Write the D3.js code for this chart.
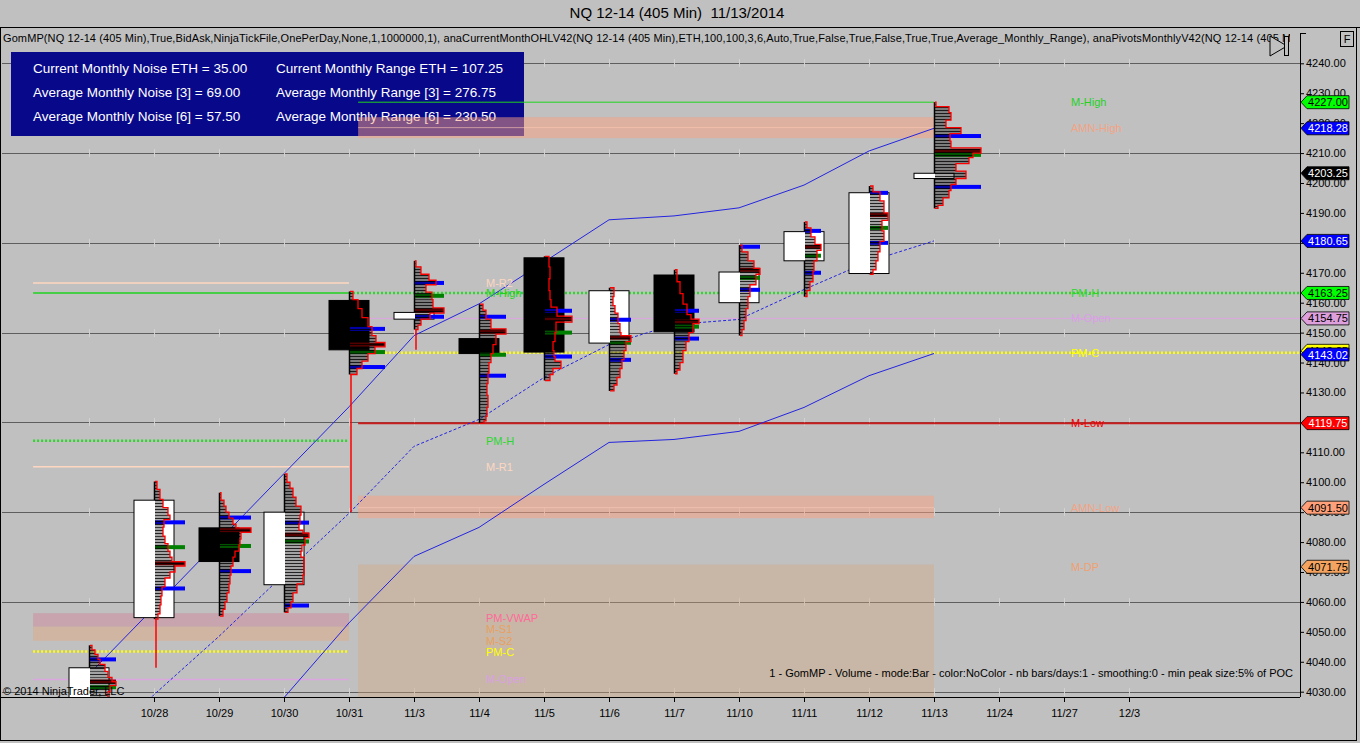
<!DOCTYPE html>
<html><head><meta charset="utf-8">
<script src="https://cdn.jsdelivr.net/npm/d3@7"></script>
<style>
html,body{margin:0;padding:0;background:#c0c0c0;overflow:hidden;}
svg{display:block;font-family:"Liberation Sans",Arial,sans-serif;}
</style></head><body>
<svg id="c" width="1360" height="743"></svg>
<script>
// ---------------- DATA ----------------
const title = "NQ 12-14 (405 Min)  11/13/2014";
const indicatorText = "GomMP(NQ 12-14 (405 Min),True,BidAsk,NinjaTickFile,OnePerDay,None,1,1000000,1), anaCurrentMonthOHLV42(NQ 12-14 (405 Min),ETH,100,100,3,6,Auto,True,False,True,False,True,True,Average_Monthly_Range), anaPivotsMonthlyV42(NQ 12-14 (405 Min),True)";
const footnote = "1 - GomMP - Volume - mode:Bar - color:NoColor - nb bars/days:1 - smoothing:0 - min peak size:5% of POC";
const copyright = "\u00a9 2014 NinjaTrader, LLC";
const infoLeft = ["Current Monthly Noise ETH = 35.00","Average Monthly Noise [3] = 69.00","Average Monthly Noise [6] = 57.50"];
const infoRight = ["Current Monthly Range ETH = 107.25","Average Monthly Range [3] = 276.75","Average Monthly Range [6] = 230.50"];

const slots = ["10/27","10/28","10/29","10/30","10/31","11/3","11/4","11/5","11/6","11/7","11/10","11/11","11/12","11/13","11/24","11/27","12/3"];
const tickLabels = ["10/28","10/29","10/30","10/31","11/3","11/4","11/5","11/6","11/7","11/10","11/11","11/12","11/13","11/24","11/27","12/3"];
const barDates = ["10/27","10/28","10/29","10/30","10/31","11/3","11/4","11/5","11/6","11/7","11/10","11/11","11/12","11/13"];
const open  = [4024.00,4054.75,4084.75,4065.75,4160.75,4154.50,4148.00,4175.00,4146.50,4169.25,4160.00,4174.00,4169.75,4201.50];
const high  = [4045.50,4100.25,4096.50,4102.75,4163.75,4174.00,4159.50,4175.50,4165.00,4171.00,4179.25,4187.00,4199.00,4227.00];
const low   = [4018.00,4054.25,4055.25,4056.50,4136.00,4151.00,4119.75,4134.00,4130.50,4136.25,4149.00,4162.00,4169.50,4191.50];
const close = [4038.00,4094.00,4073.50,4090.00,4144.25,4156.75,4143.00,4143.50,4164.00,4150.25,4170.25,4183.75,4196.75,4203.25];

// envelope lines (per bar)
const upperLine = [4035.8,4058.1,4080.5,4102.9,4125.2,4149.0,4159.6,4173.6,4187.7,4189.0,4191.7,4199.3,4210.7,4218.28];
const midLine   = [4007.0,4029.0,4048.5,4069.2,4089.6,4112.0,4121.0,4135.0,4146.0,4152.7,4154.4,4164.4,4173.8,4180.65];
const lowerLine = [3962.0,3985.0,4006.0,4028.0,4053.0,4075.2,4084.9,4099.3,4113.3,4114.3,4117.0,4125.0,4135.6,4143.02];

// volume profiles: [price, volume] from high to low
const profiles = [
 [[4045.5,200],[4044,500],[4042.5,800],[4040.8,1000],[4039.1,1500],[4036.8,1800],[4034.8,2200],[4033.4,2600],[4032,2000],[4030,1800],[4028,1500],[4026,0]],
 [[4100.25,200],[4097.6,500],[4094.3,800],[4091.5,1300],[4089,1500],[4087.5,900],[4085,800],[4082,1000],[4079.5,1300],[4077,1500],[4075,1700],[4073.5,3000],[4072,2000],[4070,1500],[4068,1000],[4065,700],[4062,600],[4059,500],[4056,300],[4054.25,0]],
 [[4096.5,100],[4094,400],[4092,600],[4090,900],[4088,1300],[4086,1600],[4084.75,3100],[4083.25,2100],[4081,2000],[4079,1900],[4077,1500],[4075,1300],[4072,1100],[4069,1000],[4066,900],[4063,700],[4060,500],[4057.5,300],[4055.25,0]],
 [[4102.75,200],[4100,500],[4098,800],[4095,1100],[4092,1600],[4089,1500],[4086,1400],[4084,1800],[4083,2400],[4081.5,2000],[4079,1700],[4077,1600],[4075,1900],[4072,1900],[4069,1800],[4066,1200],[4063,800],[4060,600],[4058,300],[4056.5,0]],
 [[4163.75,300],[4161,800],[4158,1200],[4155,1800],[4152,2200],[4149,2600],[4146.75,3500],[4145.25,2500],[4143,1800],[4140.5,1200],[4138,700],[4136,0]],
 [[4174,100],[4172,600],[4169.5,1400],[4167.5,2100],[4166,1100],[4163.5,1700],[4161,1800],[4158.25,2900],[4156.5,1500],[4154.5,600],[4152.5,300],[4151,0]],
 [[4159.5,300],[4157.5,600],[4154.5,1100],[4151.25,2600],[4149.5,1600],[4146,1300],[4143,1100],[4140,900],[4136.5,800],[4133,700],[4129,800],[4125,700],[4122,600],[4120.5,400],[4119.75,0]],
 [[4175.5,400],[4172,500],[4168,400],[4164,500],[4161,600],[4158.5,1200],[4155.5,2700],[4153.5,1100],[4150,1000],[4147,800],[4144,900],[4142,1000],[4140.5,1600],[4138,800],[4136,500],[4134,0]],
 [[4165,400],[4162,300],[4159,500],[4156.5,800],[4153,1000],[4150,1100],[4149,2100],[4147,1600],[4144,1400],[4141,1200],[4138,1000],[4135,700],[4132.5,400],[4130.5,0]],
 [[4171,200],[4167,500],[4163,800],[4159.5,1200],[4156,1600],[4154.5,2400],[4153,1800],[4150,1400],[4147,1100],[4144,800],[4140,500],[4137.5,200],[4136.25,0]],
 [[4179.25,200],[4177,800],[4174,1400],[4171.5,2000],[4169.5,1600],[4166,1000],[4162,800],[4158,600],[4154,400],[4151,200],[4149,0]],
 [[4187,200],[4185,600],[4182,1000],[4179.5,1600],[4177.5,1200],[4174,900],[4170.5,800],[4167,500],[4164,200],[4162,0]],
 [[4199,300],[4197,1000],[4194,1400],[4190,1800],[4187.5,1200],[4184,1400],[4180.5,1000],[4177,800],[4174,600],[4171,300],[4169.5,0]],
 [[4227,100],[4225.5,1400],[4223.5,1600],[4221,1100],[4218.5,2600],[4216.5,1500],[4214,1600],[4211.75,4600],[4210,3800],[4208.5,3400],[4206.5,2100],[4204,3100],[4201.5,2100],[4199.5,1600],[4197.5,1400],[4195,800],[4192.5,300],[4191.5,0]]
];
const vah  = [4040.8,4086.6,4088.2,4086.5,4151.25,4166.6,4155.3,4157.3,4154.3,4157.3,4178.7,4184.0,4196.7,4215.7];
const val  = [4026.0,4064.5,4070.3,4058.8,4138.5,4155.3,4135.6,4142.0,4140.9,4148.0,4164.3,4170.0,4180.0,4198.7];
const poc  = [4033.4,4072.9,4084.0,4082.5,4146.0,4157.4,4150.3,4154.6,4148.3,4153.7,4171.0,4178.7,4189.3,4210.7];
const vwap = [4031.5,4078.3,4078.7,4080.2,4143.5,4162.3,4142.6,4150.0,4146.6,4152.0,4168.3,4175.7,4185.0,4209.4];

// monthly levels: previous month (drawn up to 10/31) and current month
const prevLevelNames  = ["M-R2","M-High","PM-H","M-R1","PM-C","M-Open"];
const prevLevelValues = [4166.6,4163.25,4113.9,4105.2,4043.4,4034.1];
const prevBandNames = ["PM-VWAP","M-S1"];
const prevBandTop   = [4056.25,4051.75];
const prevBandBot   = [4051.75,4047.0];
const prevLabelNames  = ["M-R2","M-High","PM-H","M-R1","PM-VWAP","M-S1","M-S2","PM-C","M-Open"];
const prevLabelValues = [4166.6,4163.25,4113.9,4105.2,4054.7,4051.0,4047.0,4043.4,4034.1];
const prevStart = -0.86, prevEnd = 4;

const curLevelNames  = ["PM-H","M-Open","PM-C","M-Low","M-High"];
const curLevelValues = [4163.25,4154.75,4143.25,4119.75,4227.00];
const curBandNames = ["AMN-High","AMN-Low","M-DP"];
const curBandTop   = [4222.0,4095.5,4072.5];
const curBandBot   = [4215.0,4088.0,4020.0];
const curBandMid   = [4218.5,4091.5,null];
const curLabelNames  = ["M-High","AMN-High","PM-H","M-Open","PM-C","M-Low","AMN-Low","M-DP"];
const curLabelValues = [4227.0,4218.28,4163.25,4154.75,4143.25,4119.75,4091.5,4071.75];

// right-axis price flags
const flagValues = [4227.00,4218.28,4203.25,4180.65,4163.25,4154.75,4143.25,4143.02,4119.75,4091.50,4071.75];
const flagNames  = ["M-High","AMN-High","Last","Mid","PM-H","M-Open","PM-C","Lower","M-Low","AMN-Low","M-DP"];

// ---------------- STYLE ----------------
const col = {
  "M-R2":"#ffd7c0","M-High":"#1fd21f","PM-H":"#2ed62e","M-R1":"#ffd7c0","PM-C":"#ffff00","M-Open":"#dca6e0",
  "PM-VWAP":"#ff6a9a","M-S1":"#e8a060","M-S2":"#e8a060","M-Low":"#c81e1e","AMN-High":"#f4a486","AMN-Low":"#f4a486","M-DP":"#f0a070"
};
const labelCol = Object.assign({}, col, {"M-Low":"#ee0000","M-Open":"#d8a0e4"});
const flagFill = {"M-High":"#00ff00","AMN-High":"#0000ff","Last":"#000000","Mid":"#0000ff","PM-H":"#00ff00","M-Open":"#dda0dd","PM-C":"#ffff00","Lower":"#0000ff","M-Low":"#ff0000","AMN-Low":"#ffa07a","M-DP":"#f4a460"};
const flagText = {"M-High":"#000","AMN-High":"#fff","Last":"#fff","Mid":"#fff","PM-H":"#000","M-Open":"#000","PM-C":"#000","Lower":"#fff","M-Low":"#fff","AMN-Low":"#000","M-DP":"#000"};

// ---------------- SCALES ----------------
const svg = d3.select("#c");
const W = 1360, H = 743;
const plot = {l:2, r:1300, t:28, b:697};
const x = d3.scalePoint().domain(slots).range([89,1129]);
const xi = d3.scaleLinear().domain([0, slots.length-1]).range([89,1129]);
const y = d3.scaleLinear().domain([4030,4240]).range([691.7,63.3]);
const vol = d3.scaleLinear().domain([0,1000]).range([0,10]);

svg.append("rect").attr("width",W).attr("height",H).attr("fill","#c0c0c0");

const defs = svg.append("defs");
defs.append("clipPath").attr("id","plotclip").append("rect")
  .attr("x",plot.l).attr("y",plot.t).attr("width",plot.r-plot.l).attr("height",plot.b-plot.t);
const pat = defs.append("pattern").attr("id","stripes").attr("patternUnits","userSpaceOnUse")
  .attr("width",6).attr("height",3);
pat.append("rect").attr("width",6).attr("height",3).attr("fill","rgba(0,0,0,0.36)");
pat.append("rect").attr("y",2).attr("width",6).attr("height",1).attr("fill","rgba(0,0,0,0.78)");

// frame
svg.append("line").attr("x1",0).attr("x2",W).attr("y1",27.5).attr("y2",27.5).attr("stroke","#000");
svg.append("rect").attr("x",0.5).attr("y",27.5).attr("width",1356).attr("height",713).attr("fill","none").attr("stroke","#000");

// title
svg.append("text").attr("x",677).attr("y",18).attr("text-anchor","middle")
  .attr("font-size",15).attr("fill","#000").style("white-space","pre").text(title);

const g = svg.append("g").attr("clip-path","url(#plotclip)");

// gridlines every 30
const gridVals = d3.range(4030,4241,30);
g.selectAll("line.grid").data(gridVals).join("line")
  .attr("x1",plot.l).attr("x2",plot.r).attr("y1",d=>Math.round(y(d))+0.5).attr("y2",d=>Math.round(y(d))+0.5)
  .attr("stroke","#5e5e5e").attr("stroke-width",1);
gridVals.forEach(v=>{
  g.selectAll(null).data(slots).join("line")
   .attr("x1",d=>x(d)+0.5).attr("x2",d=>x(d)+0.5)
   .attr("y1",Math.round(y(v))-4).attr("y2",Math.round(y(v))+4)
   .attr("stroke","#d2d2d2").attr("stroke-width",1);
});

// info box
svg.append("rect").attr("x",11).attr("y",52).attr("width",513).attr("height",84).attr("fill","#08088a");
infoLeft.forEach((t,i)=>svg.append("text").attr("x",33).attr("y",73+i*24.2).attr("font-size",13.5).attr("fill","#fff").text(t));
infoRight.forEach((t,i)=>svg.append("text").attr("x",276).attr("y",73+i*24.2).attr("font-size",13.5).attr("fill","#fff").text(t));

const g2 = svg.append("g").attr("clip-path","url(#plotclip)");

// previous month bands & lines
const bandFill = {"PM-VWAP":"rgba(214,110,140,0.34)","M-S1":"rgba(236,160,110,0.36)"};
prevBandNames.forEach((n,i)=>{
  g2.append("rect").attr("x",xi(prevStart)).attr("width",xi(prevEnd)-xi(prevStart))
    .attr("y",y(prevBandTop[i])).attr("height",y(prevBandBot[i])-y(prevBandTop[i])).attr("fill",bandFill[n]);
});
prevLevelNames.forEach((n,i)=>{
  const dotted = (n==="PM-H"||n==="PM-C");
  g2.append("line").attr("x1",xi(prevStart)).attr("x2",xi(prevEnd))
    .attr("y1",y(prevLevelValues[i])).attr("y2",y(prevLevelValues[i]))
    .attr("stroke",col[n]).attr("stroke-width",dotted?2.5:1.5)
    .attr("stroke-dasharray",dotted?"2,2":null);
});

// current month bands
const curBandFill = {"AMN-High":"rgba(250,160,128,0.50)","AMN-Low":"rgba(250,160,128,0.50)","M-DP":"rgba(214,165,120,0.36)"};
const curStart = 4.14, curBandEnd = 13;
curBandNames.forEach((n,i)=>{
  g2.append("rect").attr("x",xi(curStart)).attr("width",xi(curBandEnd)-xi(curStart))
    .attr("y",y(curBandTop[i])).attr("height",y(curBandBot[i])-y(curBandTop[i])).attr("fill",curBandFill[n]);
  if(curBandMid[i]!==null){
    g2.append("line").attr("x1",xi(curStart)).attr("x2",xi(curBandEnd))
      .attr("y1",y(curBandMid[i])).attr("y2",y(curBandMid[i])).attr("stroke","rgba(255,200,180,0.6)").attr("stroke-width",1);
  }
});
// current month lines
curLevelNames.forEach((n,i)=>{
  const dotted = (n==="PM-H"||n==="PM-C");
  const start = (n==="M-Low"||n==="M-High") ? curStart : 4;
  const end = n==="M-High" ? 13 : 19;
  g2.append("line").attr("x1",xi(start)).attr("x2",xi(end))
    .attr("y1",y(curLevelValues[i])).attr("y2",y(curLevelValues[i]))
    .attr("stroke",col[n]).attr("stroke-width",dotted?2.5:(n==="M-Low"?2:1))
    .attr("stroke-dasharray",dotted?"2,2":null);
});

// envelope lines
const lineGen = arr => d3.line().x((d,i)=>x(barDates[i])).y(d=>y(d))(arr);
g2.append("path").attr("d",lineGen(upperLine)).attr("fill","none").attr("stroke","#2424e0").attr("stroke-width",1);
g2.append("path").attr("d",lineGen(midLine)).attr("fill","none").attr("stroke","#2424e0").attr("stroke-width",1).attr("stroke-dasharray","3,2");
g2.append("path").attr("d",lineGen(lowerLine)).attr("fill","none").attr("stroke","#2424e0").attr("stroke-width",1);

// candles + profiles
barDates.forEach((d,i)=>{
  const cx = x(d);
  const gb = g2.append("g");
  if(i>0){
    const pc = close[i-1];
    if(pc < low[i] || pc > high[i]){
      const edge = pc < low[i] ? low[i] : high[i];
      gb.append("line").attr("x1",cx+2).attr("x2",cx+2).attr("y1",y(edge)).attr("y2",y(pc))
        .attr("stroke","#ff0000").attr("stroke-width",1.5);
    }
  }
  gb.append("line").attr("x1",cx+0.5).attr("x2",cx+0.5).attr("y1",y(high[i])).attr("y2",y(low[i]))
    .attr("stroke","#000").attr("stroke-width",1.5);
  const up = close[i] >= open[i];
  const top = y(Math.max(open[i],close[i])), bot = y(Math.min(open[i],close[i]));
  gb.append("rect").attr("x",cx-20).attr("y",top).attr("width",40).attr("height",Math.max(1,bot-top))
    .attr("fill",up?"#fff":"#000").attr("stroke","#000").attr("stroke-width",1);

  const prof = profiles[i];
  const maxV = d3.max(prof,p=>p[1]);
  const mlen = vol(maxV);
  const markers = [[vah[i],"#0000ff"],[val[i],"#0000ff"],[vwap[i],"#008000"],[poc[i],"#800000"]];
  markers.forEach(([v,c])=>{
    gb.append("rect").attr("x",cx+1).attr("y",y(v)-2).attr("width",mlen).attr("height",4).attr("fill",c);
  });
  for(let k=0;k<prof.length-1;k++){
    gb.append("rect").attr("x",cx+1).attr("y",y(prof[k][0])).attr("width",vol(prof[k][1]))
      .attr("height",y(prof[k+1][0])-y(prof[k][0])).attr("fill","url(#stripes)");
  }
  const pts = [[0,prof[0][0]]];
  for(let k=0;k<prof.length-1;k++){ pts.push([prof[k][1],prof[k][0]]); pts.push([prof[k][1],prof[k+1][0]]); }
  pts.push([0,prof[prof.length-1][0]]);
  gb.append("path").attr("d",d3.line().x(p=>cx+1+vol(p[0])).y(p=>y(p[1]))(pts))
    .attr("fill","none").attr("stroke","#ff0000").attr("stroke-width",1.3);
});

// level labels
prevLabelNames.forEach((n,i)=>{
  g2.append("text").attr("x",x("11/4")+7).attr("y",y(prevLabelValues[i])+4).attr("font-size",11)
    .attr("fill",labelCol[n]).text(n);
});
curLabelNames.forEach((n,i)=>{
  g2.append("text").attr("x",x("11/27")+7).attr("y",y(curLabelValues[i])+4).attr("font-size",11)
    .attr("fill",labelCol[n]).text(n);
});

// footnote and copyright
svg.append("text").attr("x",1293).attr("y",677).attr("text-anchor","end").attr("font-size",11).attr("fill","#000").text(footnote);
svg.append("text").attr("x",3).attr("y",695).attr("font-size",11).attr("fill","#000").text(copyright);

// indicator line
defs.append("clipPath").attr("id","txtclip").append("rect").attr("x",0).attr("y",28).attr("width",1290).attr("height",20);
svg.append("text").attr("x",3).attr("y",42).attr("font-size",11).attr("letter-spacing","0.1px").attr("fill","#000")
  .attr("clip-path","url(#txtclip)").text(indicatorText);

// icon & F box
svg.append("path").attr("d","M1270,36 L1287,46 L1270,56 Z").attr("fill","#c0c0c0").attr("stroke","#000");
svg.append("rect").attr("x",1284.5).attr("y",36.5).attr("width",4).attr("height",19).attr("fill","#c0c0c0").attr("stroke","#000");
svg.append("rect").attr("x",1340.5).attr("y",31.5).attr("width",13).attr("height",15).attr("fill","none").attr("stroke","#000");
svg.append("text").attr("x",1347).attr("y",43).attr("text-anchor","middle").attr("font-size",11).text("F");

// axes
const xAxis = d3.axisBottom(x).tickValues(tickLabels).tickSize(5).tickSizeOuter(0);
const xa = svg.append("g").attr("transform",`translate(0,${plot.b})`).call(xAxis);
xa.select(".domain").remove();
xa.selectAll("text").attr("font-size",11).attr("font-family","Liberation Sans, Arial").attr("fill","#000").attr("dy","1.05em");
svg.append("line").attr("x1",0).attr("x2",plot.r).attr("y1",plot.b+0.5).attr("y2",plot.b+0.5).attr("stroke","#000");

const yAxis = d3.axisRight(y).tickValues(d3.range(4030,4241,10)).tickFormat(d3.format(".2f")).tickSize(4).tickSizeOuter(0);
const ya = svg.append("g").attr("transform",`translate(${plot.r},0)`).call(yAxis);
ya.select(".domain").remove();
ya.selectAll("text").attr("font-size",11).attr("font-family","Liberation Sans, Arial").attr("fill","#000").attr("x",6);
svg.append("line").attr("x1",plot.r+0.5).attr("x2",plot.r+0.5).attr("y1",33).attr("y2",plot.b).attr("stroke","#000");
svg.append("line").attr("x1",plot.r).attr("x2",plot.r+6).attr("y1",33.5).attr("y2",33.5).attr("stroke","#000");

// price flags
flagValues.forEach((v,i)=>{
  const n = flagNames[i];
  const fy = y(v) + (n==="PM-C" ? -2 : 0) + (n==="Lower" ? 1 : 0);
  const fx = plot.r+1;
  svg.append("path").attr("d",`M${fx},${fy} L${fx+6},${fy-6.5} L${fx+48},${fy-6.5} L${fx+48},${fy+6.5} L${fx+6},${fy+6.5} Z`)
    .attr("fill",flagFill[n]).attr("stroke","#000").attr("stroke-width",0.8);
  svg.append("text").attr("x",fx+27).attr("y",fy+4).attr("text-anchor","middle").attr("font-size",11)
    .attr("fill",flagText[n]).text(d3.format(".2f")(v));
});
</script>
</body></html>
